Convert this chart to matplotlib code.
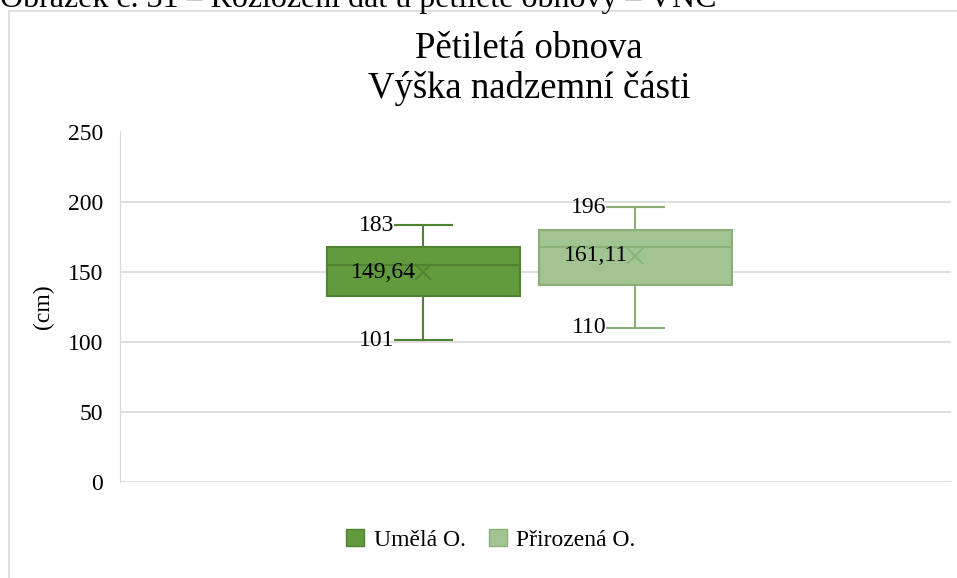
import matplotlib.pyplot as plt
from matplotlib.patches import Rectangle, Patch

# data
series = ['Umělá O.', 'Přirozená O.']
minimum = [101, 110]
q1 = [132.5, 140.7]
median = [154.3, 167.6]
q3 = [167.6, 179.5]
maximum = [183, 196]
mean = [149.64, 161.11]
mean_labels = ['149,64', '161,11']
yticks = [0, 50, 100, 150, 200, 250]

fills = ['#629A3E', '#A2C492']
edges = ['#4F8231', '#8AB077']
positions = [0.365, 0.620]
box_w = 0.232
cap_w = 0.069

plt.rcParams['font.family'] = ['Liberation Serif', 'DejaVu Serif']

fig = plt.figure(figsize=(9.57, 5.78), dpi=100)
fig.text(0.0, 1 - 7 / 578, 'Obrázek č. 31 – Rozložení dat u pětileté obnovy – VNC',
         fontsize=23, va='baseline', ha='left')
fig.patches.append(Rectangle((9 / 957, -0.01), 1.2, 1 - 11 / 578 + 0.01,
                             transform=fig.transFigure, fill=False,
                             edgecolor='#D9D9D9', linewidth=1.2))

ax = fig.add_axes([120 / 957, 1 - 481.5 / 578, 831 / 957, 350 / 578])
ax.set_xlim(0, 1)
ax.set_ylim(0, 250)
ax.set_yticks(yticks)
ax.set_xticks([])
ax.tick_params(axis='y', length=0, labelsize=17, pad=12)
for s in ['top', 'right', 'bottom']:
    ax.spines[s].set_visible(False)
ax.spines['left'].set_color('#D9D9D9')
ax.grid(axis='y', color='#D9D9D9', linewidth=1.2)
ax.set_axisbelow(True)
ax.set_ylabel('(cm)', fontsize=17, labelpad=10)

for i in range(len(series)):
    x = positions[i]
    ax.add_patch(Rectangle((x - box_w / 2, q1[i]), box_w, q3[i] - q1[i],
                           facecolor=fills[i], edgecolor=edges[i], linewidth=1.5, zorder=3))
    ax.plot([x - box_w / 2, x + box_w / 2], [median[i], median[i]], color=edges[i], lw=1.5, zorder=4)
    ax.plot([x, x], [q3[i], maximum[i]], color=edges[i], lw=1.5, zorder=3)
    ax.plot([x, x], [minimum[i], q1[i]], color=edges[i], lw=1.5, zorder=3)
    for v in (minimum[i], maximum[i]):
        ax.plot([x - cap_w / 2, x + cap_w / 2], [v, v], color=edges[i], lw=1.5, zorder=3)
        ax.text(x - cap_w / 2, v, f'{v}', fontsize=17, ha='right', va='center', zorder=5)
    ax.plot(x, mean[i], marker='x', markersize=12, mew=1.3, color=edges[i], zorder=5)
    ax.text(x - 0.009, mean[i], mean_labels[i], fontsize=17, ha='right', va='center', zorder=5)

fig.text(529 / 957, 1 - 69 / 578, 'Pětiletá obnova\nVýška nadzemní části',
         fontsize=26.5, ha='center', va='center', linespacing=1.2)

handles = [Patch(facecolor=fills[i], edgecolor=edges[i], label=series[i]) for i in range(2)]
fig.legend(handles=handles, loc='center', bbox_to_anchor=(491 / 957, 1 - 540 / 578),
           ncol=2, frameon=False, fontsize=17, handlelength=0.75, handleheight=0.75,
           handletextpad=0.4, columnspacing=1.0)

fig.savefig('out.png', dpi=100)
